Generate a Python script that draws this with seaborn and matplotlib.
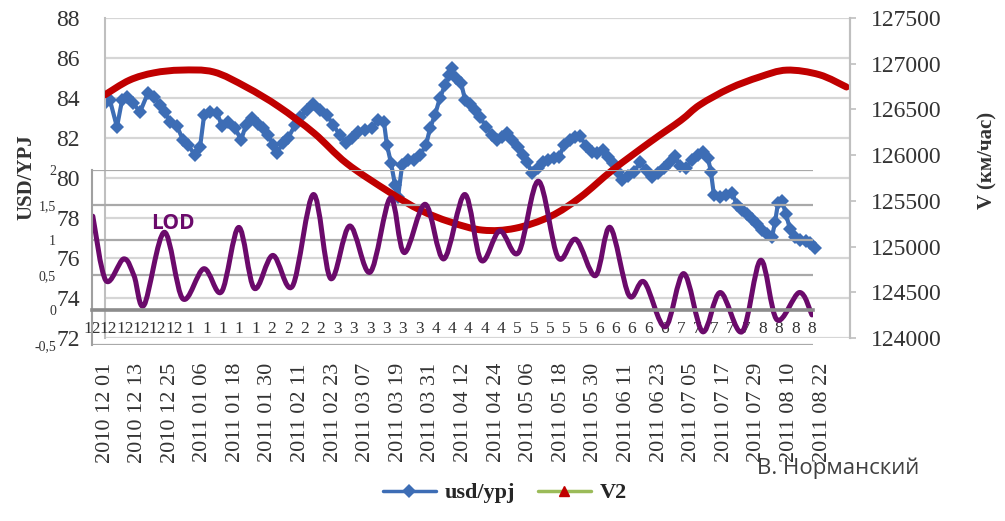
import numpy as np
import pandas as pd
import matplotlib
matplotlib.use('Agg')
import matplotlib.pyplot as plt
import seaborn as sns
from matplotlib.path import Path
from matplotlib.patches import PathPatch
from matplotlib.lines import Line2D

sns.set_theme(style='white')
plt.rcParams['font.family'] = ['Liberation Serif', 'DejaVu Serif']
plt.rcParams['axes.unicode_minus'] = False

# ---- data (days counted from 2010-12-01) ----
date_days = [0, 12, 24, 36, 48, 60, 72, 84, 96, 108, 120, 132, 144, 156, 168, 180,
             192, 204, 216, 228, 240, 252, 264]
date_labels = ['2010 12 01', '2010 12 13', '2010 12 25', '2011 01 06', '2011 01 18',
               '2011 01 30', '2011 02 11', '2011 02 23', '2011 03 07', '2011 03 19',
               '2011 03 31', '2011 04 12', '2011 04 24', '2011 05 06', '2011 05 18',
               '2011 05 30', '2011 06 11', '2011 06 23', '2011 07 05', '2011 07 17',
               '2011 07 29', '2011 08 10', '2011 08 22']

# month labels of the LOD inset, one every 6 days
lod_tick_days = [0, 6, 12, 18, 24, 30, 36, 42, 48, 54, 60, 66, 72, 78, 84, 90, 96, 102,
                 108, 114, 120, 126, 132, 138, 144, 150, 156, 162, 168, 174, 180, 186,
                 192, 198, 204, 210, 216, 222, 228, 234, 240, 246, 252, 258, 264]
lod_tick_labels = ['12', '12', '12', '12', '12', '12',
                   '1', '1', '1', '1', '1',
                   '2', '2', '2', '2',
                   '3', '3', '3', '3', '3', '3',
                   '4', '4', '4', '4', '4',
                   '5', '5', '5', '5', '5',
                   '6', '6', '6', '6', '6',
                   '7', '7', '7', '7', '7',
                   '8', '8', '8', '8']

usd_day = [0, 1.8, 4.4, 6.3, 8.1, 10.3, 12.9, 15.8, 18.0, 20.3, 22.1, 23.9, 26.5, 28.7,
           30.6, 33.1, 35.0, 36.5, 38.7, 41.2, 43.1, 45.3, 47.9, 50.1, 51.9, 54.1, 56.3,
           58.2, 60.0, 61.9, 63.3, 65.5, 67.4, 70.0, 71.8, 74.4, 76.6, 79.2, 81.7, 84.0,
           86.5, 88.7, 90.9, 93.2, 95.7, 98.3, 100.5, 102.7, 103.8, 105.3, 106.8, 107.9,
           109.4, 111.6, 113.8, 116.0, 118.2, 119.7, 121.5, 123.3, 125.2, 126.7, 127.8,
           129.2, 131.1, 132.6, 134.4, 136.2, 138.1, 140.3, 142.5, 144.3, 146.2, 148.0,
           149.9, 152.1, 153.9, 155.4, 157.2, 159.4, 161.3, 163.1, 165.3, 167.2, 169.0,
           171.2, 173.1, 174.9, 177.1, 179.3, 181.2, 183.4, 185.2, 187.0, 188.9, 190.4,
           192.6, 194.8, 197.0, 199.2, 201.4, 203.6, 205.8, 208.0, 209.9, 211.7, 213.9,
           216.1, 218.3, 220.2, 222.0, 223.1, 224.2, 226.4, 228.7, 230.9, 232.7, 234.5,
           236.4, 238.2, 240.1, 241.9, 243.7, 245.6, 246.7, 247.8, 249.3, 250.7, 252.2,
           254.1, 255.9, 258.1, 259.6, 261.4]
usd_val = [83.75, 83.9, 82.55, 83.9, 84.05, 83.75, 83.3, 84.25, 84.05, 83.65, 83.3, 82.8,
           82.6, 81.9, 81.65, 81.15, 81.55, 83.15, 83.3, 83.25, 82.6, 82.8, 82.5, 81.9,
           82.65, 83.0, 82.7, 82.5, 82.15, 81.65, 81.25, 81.75, 82.0, 82.65, 83.05, 83.4,
           83.7, 83.4, 83.15, 82.65, 82.15, 81.75, 82.0, 82.3, 82.4, 82.5, 82.9, 82.8,
           81.65, 80.75, 79.65, 79.05, 80.65, 80.9, 80.9, 81.15, 81.65, 82.5, 83.15, 84.0,
           84.65, 85.15, 85.5, 85.0, 84.75, 83.9, 83.7, 83.4, 83.05, 82.55, 82.15, 81.9,
           82.05, 82.25, 81.9, 81.55, 81.15, 80.8, 80.25, 80.5, 80.8, 80.9, 81.0, 81.05,
           81.65, 81.9, 82.05, 82.1, 81.6, 81.3, 81.25, 81.4, 81.05, 80.75, 80.3, 79.9,
           80.1, 80.3, 80.8, 80.4, 80.05, 80.25, 80.5, 80.8, 81.1, 80.6, 80.5, 80.9,
           81.15, 81.3, 81.0, 80.3, 79.15, 79.05, 79.15, 79.25, 78.65, 78.4, 78.2, 77.95,
           77.7, 77.4, 77.2, 77.05, 77.8, 78.75, 78.85, 78.2, 77.45, 77.05, 76.9, 76.85,
           76.75, 76.5]

v2_day = [0, 9, 18, 28, 40, 52, 64, 77, 89, 105, 116, 127, 139, 151, 164, 175, 187,
          201, 212, 219, 230, 241, 251, 263, 273]
v2_val = [126660, 126820, 126900, 126930, 126910, 126745, 126530, 126240, 125910, 125590,
          125400, 125270, 125180, 125200, 125330, 125540, 125840, 126150, 126380, 126550,
          126730, 126855, 126930, 126880, 126745]

lod_day = [0.3, 5.1, 11.6, 15.4, 19.1, 26.5, 33.3, 41.0, 47.5, 53.8, 59.5, 66.3, 73.5,
           81.2, 87.5, 94.5, 102.0, 109.4, 114.5, 122.2, 129.0, 136.7, 142.7, 149.5,
           156.4, 163.7, 170.9, 177.4, 184.6, 190.0, 196.9, 202.5, 210.2, 217.0, 223.9,
           230.4, 238.4, 245.2, 251.2, 259.4, 264.0]
lod_val = [1.34, 0.42, 0.73, 0.49, 0.07, 1.11, 0.16, 0.59, 0.26, 1.18, 0.31, 0.78, 0.34,
           1.65, 0.45, 1.20, 0.54, 1.60, 0.82, 1.51, 0.73, 1.65, 0.71, 1.13, 0.82, 1.84,
           0.75, 1.01, 0.49, 1.18, 0.21, 0.40, -0.24, 0.52, -0.31, 0.25, -0.31, 0.71,
           -0.14, 0.25, -0.07]

usd_ticks = [72, 74, 76, 78, 80, 82, 84, 86, 88]
v_ticks = [124000, 124500, 125000, 125500, 126000, 126500, 127000, 127500]
lod_ticks = [-0.5, 0, 0.5, 1, 1.5, 2]
lod_tick_text = ['-0,5', '0', '0,5', '1', '1,5', '2']

BLUE = '#3D6DB5'
RED = '#C00000'
PURPLE = '#6B0A6B'
GREEN = '#9BBB59'
TXT = '#333333'
SANS = ['Open Sans', 'DejaVu Sans']


def smooth_path(xs, ys):
    # Excel-like smoothed line: Catmull-Rom segments as cubic Bezier curves
    n = len(xs)
    verts = [(xs[0], ys[0])]
    codes = [Path.MOVETO]
    for i in range(n - 1):
        a, b = max(i - 1, 0), min(i + 2, n - 1)
        c1 = (xs[i] + (xs[i + 1] - xs[a]) / 6, ys[i] + (ys[i + 1] - ys[a]) / 6)
        c2 = (xs[i + 1] - (xs[b] - xs[i]) / 6, ys[i + 1] - (ys[b] - ys[i]) / 6)
        verts += [c1, c2, (xs[i + 1], ys[i + 1])]
        codes += [Path.CURVE4] * 3
    return Path(verts, codes)


fig = plt.figure(figsize=(10.05, 5.21), dpi=100)
fig.patch.set_facecolor('white')

# main axes: usd/ypj (left) and V2 (right)
ax = fig.add_axes([105 / 1005, 183 / 521, 745 / 1005, 320 / 521])
ax.set_facecolor('white')
usd_df = pd.DataFrame({'day': usd_day, 'usd': usd_val})
sns.lineplot(data=usd_df, x='day', y='usd', ax=ax, color=BLUE, lw=3,
             marker='D', markersize=7.5, markeredgewidth=0, legend=False)
ax.set_xlim(0, 274.3)
ax.set_ylim(72, 88)
ax.set_yticks(usd_ticks)
ax.set_yticklabels([str(t) for t in usd_ticks])
ax.set_xticks(date_days)
ax.set_xticklabels(date_labels, rotation=90)
ax.tick_params(axis='x', length=0, pad=18, labelsize=16, labelcolor=TXT)
ax.tick_params(axis='y', length=0, pad=18, labelsize=17, labelcolor=TXT)
ax.yaxis.grid(True, color='#D6D6D6', lw=1.6)
ax.xaxis.grid(False)
for s in ['top', 'bottom']:
    ax.spines[s].set_visible(False)
for s in ['left', 'right']:
    ax.spines[s].set_color('#BFBFBF')
    ax.spines[s].set_linewidth(1.5)
ax.set_xlabel('')
ax.set_ylabel('')

ax2 = ax.twinx()
ax2.set_xlim(0, 274.3)
ax2.set_ylim(124000, 127500)
ax2.add_patch(PathPatch(smooth_path(v2_day, v2_val), facecolor='none',
                        edgecolor=RED, lw=5, capstyle='round', joinstyle='round'))
ax2.set_yticks(v_ticks)
ax2.set_yticklabels([str(t) for t in v_ticks])
ax2.tick_params(axis='y', right=True, length=4, width=1.2, color='#BFBFBF', pad=11,
                labelsize=17, labelcolor=TXT)
ax2.grid(False)
for s in ['top', 'bottom', 'left']:
    ax2.spines[s].set_visible(False)
ax2.spines['right'].set_color('#BFBFBF')
ax2.spines['right'].set_linewidth(1.5)
ax2.set_ylabel('')

# LOD inset (transparent, drawn over the main chart)
ax_in = fig.add_axes([92 / 1005, 176 / 521, 721 / 1005, 175 / 521])
ax_in.patch.set_alpha(0)
ax_in.set_xlim(0, 264.4)
ax_in.set_ylim(-0.5, 2)
ax_in.add_patch(PathPatch(smooth_path(lod_day, lod_val), facecolor='none',
                          edgecolor=PURPLE, lw=3.6, capstyle='round', joinstyle='round'))
ax_in.set_yticks(lod_ticks)
ax_in.set_yticklabels(lod_tick_text)
ax_in.set_xticks(lod_tick_days)
ax_in.set_xticklabels(lod_tick_labels, family=SANS)
ax_in.tick_params(axis='x', length=0, pad=8, labelsize=12.5, labelcolor=TXT)
ax_in.tick_params(axis='y', length=0, pad=26, labelsize=10, labelcolor=TXT)
ax_in.yaxis.grid(True, color='#A9A9A9', lw=1.6)
ax_in.xaxis.grid(False)
ax_in.spines['bottom'].set_position(('data', 0))
ax_in.spines['bottom'].set_color('#8C8C8C')
ax_in.spines['bottom'].set_linewidth(2.6)
ax_in.spines['left'].set_color('#A0A0A0')
ax_in.spines['left'].set_linewidth(1.5)
for s in ['top', 'right']:
    ax_in.spines[s].set_visible(False)
ax_in.text(21.5, 1.24, 'LOD', color=PURPLE, fontsize=15, fontweight='bold',
           family=SANS, ha='left', va='center')

# axis titles and caption
fig.text(26 / 1005, 1 - 177 / 521, 'USD/YPJ', rotation=90, ha='center', va='center',
         fontsize=15, fontweight='bold', color=TXT)
fig.text(987 / 1005, 1 - 160 / 521, 'V (км/час)', rotation=90, ha='center', va='center',
         fontsize=15, fontweight='bold', color=TXT)
fig.text(838 / 1005, 1 - 468 / 521, 'В. Норманский', ha='center', va='center',
         fontsize=16, color='#404040', family=SANS)

h1 = Line2D([], [], color=BLUE, lw=2.5, marker='D', markersize=7, markeredgewidth=0)
h2 = Line2D([], [], color=GREEN, lw=2.5, marker='^', markersize=7,
            markerfacecolor=RED, markeredgecolor=RED)
fig.legend([h1, h2], ['usd/ypj', 'V2'], loc='center', ncol=2, frameon=False,
           bbox_to_anchor=(505 / 1005, 1 - 493 / 521), handlelength=2.4,
           handletextpad=0.4, columnspacing=1.0,
           prop={'size': 16, 'weight': 'bold'})

fig.savefig('out.png', dpi=100, facecolor='white')
